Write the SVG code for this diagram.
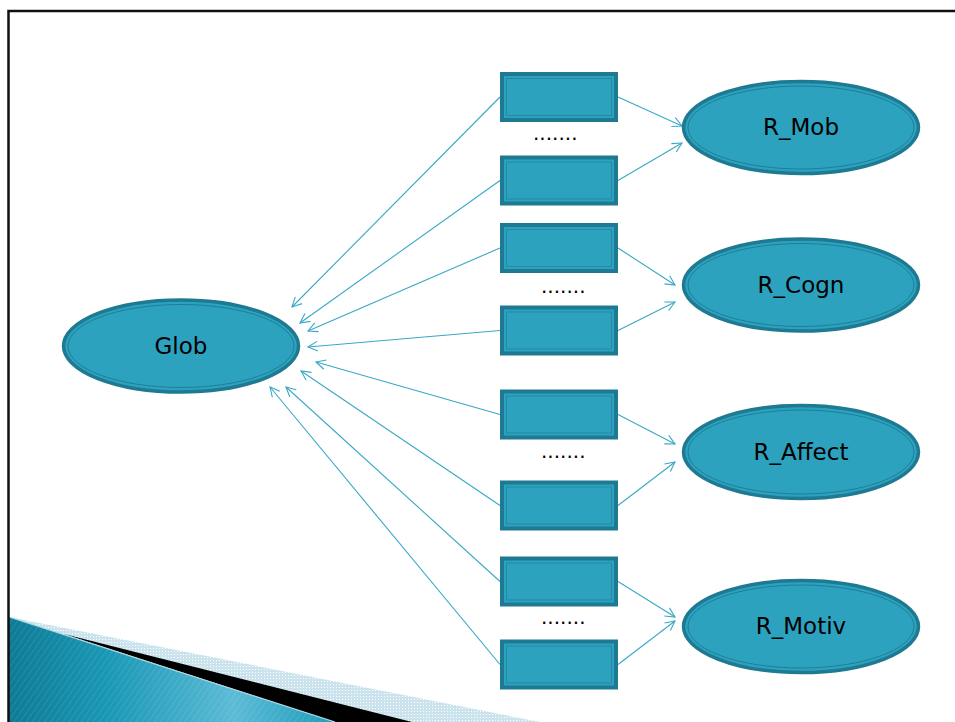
<svg xmlns="http://www.w3.org/2000/svg" width="955" height="722" viewBox="0 0 955 722">
<style>
.bx{fill:#2ca2bf;stroke:#1e7a92;stroke-width:4}
.bxi{fill:none;stroke:#2389a5;stroke-width:1}
.el{fill:#2ca2bf;stroke:#1e7a92;stroke-width:3.5}
.eli{fill:none;stroke:#1e7f98;stroke-width:1}
.lbl{font-family:"DejaVu Sans",sans-serif;font-size:23px;fill:#000;text-anchor:middle}
.dots{font-family:"DejaVu Sans",sans-serif;font-size:20px;fill:#000}
.cn{stroke:#3aa8c6;stroke-width:1.1;fill:none;marker-end:url(#ah)}
</style>
<defs>
<marker id="ah" viewBox="0 0 12 12" refX="11" refY="6" markerWidth="12" markerHeight="12" markerUnits="userSpaceOnUse" orient="auto" overflow="visible">
<path d="M1.5,1.2 L11,6 L1.5,10.8" fill="none" stroke="#3aa8c6" stroke-width="1.1"/>
</marker>
<linearGradient id="tg" x1="9" y1="0" x2="340" y2="0" gradientUnits="userSpaceOnUse">
<stop offset="0" stop-color="#0e7b94"/>
<stop offset="0.3" stop-color="#1a98b6"/>
<stop offset="0.68" stop-color="#5cbbd6"/>
<stop offset="1" stop-color="#1a9ab8"/>
</linearGradient>
<pattern id="st" width="5" height="5" patternUnits="userSpaceOnUse" patternTransform="rotate(35)">
<line x1="0" y1="0" x2="0" y2="5" stroke="#ffffff" stroke-opacity="0.12" stroke-width="1.5"/>
</pattern>
<pattern id="ck" width="3" height="3" patternUnits="userSpaceOnUse">
<rect width="3" height="3" fill="#cbe3ec"/>
<rect width="1" height="1" fill="#ffffff"/>
</pattern>
</defs>
<rect width="955" height="722" fill="#ffffff"/>
<g id="decoration">
<polygon points="9,617 540,722 9,722" fill="url(#ck)"/>
<polygon points="64,634 412,722 335,722" fill="#000000"/>
<polygon points="9,617 335,722 9,722" fill="url(#tg)"/>
<polygon points="9,617 335,722 9,722" fill="url(#st)"/>
<line x1="9" y1="617" x2="335" y2="722" stroke="#a9d8e6" stroke-width="1.2"/>
</g>
<g id="frame">
<path d="M8.5,722 V11 H955" fill="none" stroke="#111111" stroke-width="2.5"/>
</g>
<g id="connectors">
<line class="cn" x1="500" y1="97" x2="292" y2="307"/>
<line class="cn" x1="500" y1="180.5" x2="300" y2="323"/>
<line class="cn" x1="500" y1="248" x2="308" y2="331"/>
<line class="cn" x1="500" y1="330.5" x2="308" y2="347"/>
<line class="cn" x1="500" y1="414.5" x2="316" y2="362"/>
<line class="cn" x1="500" y1="505.5" x2="301" y2="371"/>
<line class="cn" x1="500" y1="581.5" x2="286" y2="387"/>
<line class="cn" x1="500" y1="664.5" x2="270" y2="387"/>
<line class="cn" x1="618" y1="97" x2="682" y2="126"/>
<line class="cn" x1="618" y1="180.5" x2="682" y2="143"/>
<line class="cn" x1="618" y1="248" x2="675" y2="285"/>
<line class="cn" x1="618" y1="330.5" x2="675" y2="302"/>
<line class="cn" x1="618" y1="414.5" x2="675" y2="444"/>
<line class="cn" x1="618" y1="505.5" x2="675" y2="462"/>
<line class="cn" x1="618" y1="581.5" x2="675" y2="617"/>
<line class="cn" x1="618" y1="664.5" x2="675" y2="621"/>
</g>
<g id="box1"><rect class="bx" x="502" y="74" width="114" height="46"/><rect class="bxi" x="506.5" y="78.5" width="105" height="37"/></g>
<g id="box2"><rect class="bx" x="502" y="157.5" width="114" height="46"/><rect class="bxi" x="506.5" y="162" width="105" height="37"/></g>
<g id="box3"><rect class="bx" x="502" y="225" width="114" height="46"/><rect class="bxi" x="506.5" y="229.5" width="105" height="37"/></g>
<g id="box4"><rect class="bx" x="502" y="307.5" width="114" height="46"/><rect class="bxi" x="506.5" y="312" width="105" height="37"/></g>
<g id="box5"><rect class="bx" x="502" y="391.5" width="114" height="46"/><rect class="bxi" x="506.5" y="396" width="105" height="37"/></g>
<g id="box6"><rect class="bx" x="502" y="482.5" width="114" height="46"/><rect class="bxi" x="506.5" y="487" width="105" height="37"/></g>
<g id="box7"><rect class="bx" x="502" y="558.5" width="114" height="46"/><rect class="bxi" x="506.5" y="563" width="105" height="37"/></g>
<g id="box8"><rect class="bx" x="502" y="641.5" width="114" height="46"/><rect class="bxi" x="506.5" y="646" width="105" height="37"/></g>
<g id="dots1"><text class="dots" x="533" y="140">.......</text></g>
<g id="dots2"><text class="dots" x="541" y="293">.......</text></g>
<g id="dots3"><text class="dots" x="541" y="458">.......</text></g>
<g id="dots4"><text class="dots" x="541" y="624">.......</text></g>
<g id="glob"><ellipse class="el" cx="181" cy="346" rx="117.5" ry="46"/><ellipse class="eli" cx="181" cy="346" rx="113" ry="41.5"/><text class="lbl" x="181" y="353.5">Glob</text></g>
<g id="r_mob"><ellipse class="el" cx="801" cy="127.5" rx="117.5" ry="46"/><ellipse class="eli" cx="801" cy="127.5" rx="113" ry="41.5"/><text class="lbl" x="801" y="135">R_Mob</text></g>
<g id="r_cogn"><ellipse class="el" cx="801" cy="285" rx="117.5" ry="46"/><ellipse class="eli" cx="801" cy="285" rx="113" ry="41.5"/><text class="lbl" x="801" y="292.5">R_Cogn</text></g>
<g id="r_affect"><ellipse class="el" cx="801" cy="452" rx="117.5" ry="46.5"/><ellipse class="eli" cx="801" cy="452" rx="113" ry="42"/><text class="lbl" x="801" y="459.5">R_Affect</text></g>
<g id="r_motiv"><ellipse class="el" cx="801" cy="626.5" rx="117.5" ry="46"/><ellipse class="eli" cx="801" cy="626.5" rx="113" ry="41.5"/><text class="lbl" x="801" y="634">R_Motiv</text></g>
</svg>
